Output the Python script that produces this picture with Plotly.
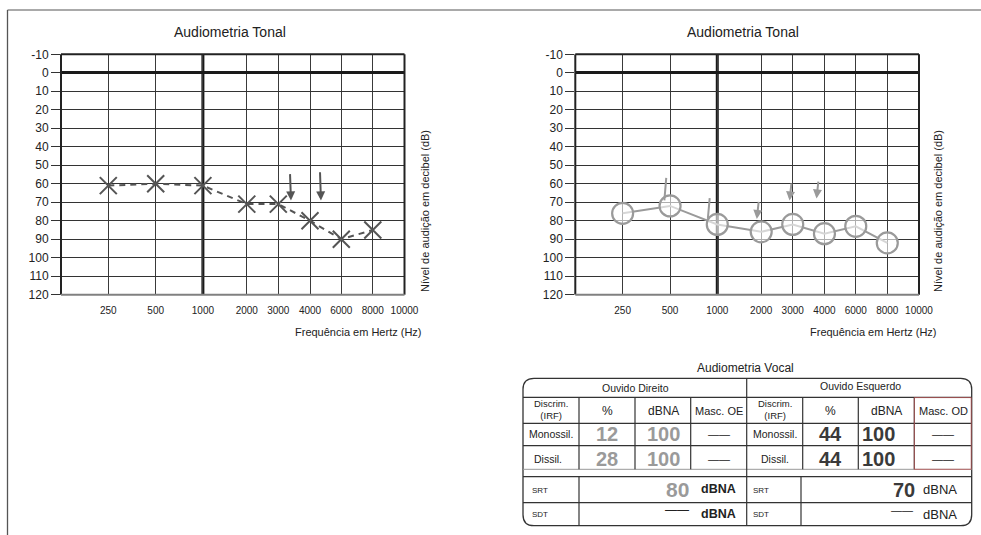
import numpy as np
import plotly.graph_objects as go

# ---------------- data ----------------
freqs = [250, 500, 1000, 2000, 3000, 4000, 6000, 8000]
od_thresholds = [61, 60, 61, 71, 71, 80, 90, 85]      # X markers (left audiogram)
oe_thresholds = [76, 72, 82, 86, 82, 87, 83, 92]      # O markers (right audiogram)

od_arrow_freq = [3400, 4700]
od_arrow_top = [54, 53]
od_arrow_bottom = [69, 69]

oe_arrow_freq = [470, 900, 1900, 2900, 3750]
oe_arrow_top = [56, 67, 69, 59, 58]
oe_arrow_bottom = [69, 79, 79, 69, 68]
oe_arrow_head = [0, 0, 1, 1, 1]

tick_freqs = [250, 500, 1000, 2000, 3000, 4000, 6000, 8000, 10000]
tick_labels = [str(f) for f in tick_freqs]
db_ticks = list(range(-10, 121, 10))
db_labels = [str(v) for v in db_ticks]

vocal_rows = ["Monossil.", "Dissil."]
od_pct = [12, 28]
od_dbna = [100, 100]
oe_pct = [44, 44]
oe_dbna = [100, 100]
srt_od = 80
srt_oe = 70

# ---------------- layout helpers ----------------
W0, H0 = 981, 535

TICK_POS = [47.3, 94.7, 141.9, 185.8, 217.3, 249.0, 280.3, 311.8, 343.5]
X_RANGE = [0, 343.5]


def fx(f):
    return np.interp(f, tick_freqs, TICK_POS)


def px(x):
    return x / W0


def py(y):
    return 1 - y / H0


FONT = "Liberation Sans, Arial, sans-serif"
DARK = "#222"
GRAY = "#9a9a9a"

fig = go.Figure()

fig.add_trace(go.Scatter(
    x=fx(freqs), y=od_thresholds, mode="lines+markers",
    line=dict(color="#555", width=2, dash="6px,5px"),
    marker=dict(symbol="x-thin", size=17, color="#555", line=dict(width=2, color="#555")),
    xaxis="x", yaxis="y", showlegend=False, hoverinfo="skip"))

fig.add_trace(go.Scatter(
    x=fx(freqs), y=oe_thresholds, mode="lines+markers",
    line=dict(color=GRAY, width=2),
    marker=dict(symbol="circle", size=21, color="rgba(255,255,255,0.6)",
                line=dict(width=2.2, color=GRAY)),
    xaxis="x2", yaxis="y2", showlegend=False, hoverinfo="skip"))

ydom = [py(294.7), py(54.3)]
xdoms = {"x": [px(61), px(404.5)], "x2": [px(575.3), px(919)]}

common_x = dict(range=X_RANGE, tickmode="array", tickvals=TICK_POS, ticktext=tick_labels,
                showgrid=True, gridcolor="#3a3a3a", gridwidth=1.3, zeroline=False,
                showline=False, ticks="outside", ticklen=6, tickcolor="rgba(0,0,0,0)",
                tickfont=dict(size=10, color=DARK, family=FONT), fixedrange=True,
                automargin=False)
common_y = dict(range=[120, -10], tickmode="array", tickvals=db_ticks, ticktext=db_labels,
                showgrid=True, gridcolor="#333", gridwidth=1, zeroline=True,
                zerolinecolor="#1a1a1a", zerolinewidth=3, showline=False,
                ticks="outside", ticklen=9, tickcolor="#333", tickwidth=1,
                tickfont=dict(size=12, color=DARK, family=FONT), fixedrange=True,
                domain=ydom, automargin=False)

fig.update_layout(
    width=W0, height=H0, autosize=False,
    margin=dict(l=0, r=0, t=0, b=0, pad=0, autoexpand=False),
    paper_bgcolor="white", plot_bgcolor="white",
    font=dict(family=FONT, color=DARK),
    xaxis=dict(domain=xdoms["x"], anchor="y", **common_x),
    yaxis=dict(anchor="x", **common_y),
    xaxis2=dict(domain=xdoms["x2"], anchor="y2", **common_x),
    yaxis2=dict(anchor="x2", **common_y),
)

shapes = []
annotations = []

# audiogram frames and 1000 Hz thick line
for xr, yr in [("x", "y"), ("x2", "y2")]:
    xd, yd = xr + " domain", yr + " domain"
    shapes.append(dict(type="line", xref=xd, yref=yd, x0=0, x1=1, y0=1, y1=1,
                       line=dict(color=DARK, width=2)))
    shapes.append(dict(type="line", xref=xd, yref=yd, x0=0, x1=0, y0=0, y1=1,
                       line=dict(color=DARK, width=2)))
    shapes.append(dict(type="line", xref=xd, yref=yd, x0=1, x1=1, y0=0, y1=1,
                       line=dict(color=DARK, width=2)))
    shapes.append(dict(type="line", xref=xd, yref=yd, x0=0, x1=1, y0=0, y1=0,
                       line=dict(color="#808080", width=2)))
    shapes.append(dict(type="line", xref=xr, yref=yd, x0=fx(1000), x1=fx(1000), y0=0, y1=1,
                       line=dict(color="#1a1a1a", width=3), layer="below"))

# page frame
shapes.append(dict(type="line", xref="paper", yref="paper", x0=px(7.5), x1=1, y0=py(10), y1=py(10),
                   line=dict(color="#555", width=1)))
shapes.append(dict(type="line", xref="paper", yref="paper", x0=px(7.5), x1=px(7.5), y0=py(10), y1=0,
                   line=dict(color="#555", width=1.3)))

# no-response / BC arrows
for f, t, b in zip(od_arrow_freq, od_arrow_top, od_arrow_bottom):
    annotations.append(dict(x=fx(f), y=b, ax=fx(f) - 1, ay=t, xref="x", yref="y",
                            axref="x", ayref="y", text="", showarrow=True, arrowhead=2,
                            arrowsize=0.9, arrowwidth=2, arrowcolor="#555", standoff=0))
for f, t, b, hd in zip(oe_arrow_freq, oe_arrow_top, oe_arrow_bottom, oe_arrow_head):
    annotations.append(dict(x=fx(f), y=b, ax=fx(f) + 2, ay=t, xref="x2", yref="y2",
                            axref="x2", ayref="y2", text="", showarrow=True,
                            arrowhead=2 if hd else 0, arrowsize=0.9, arrowwidth=2,
                            arrowcolor=GRAY, standoff=0))


def txt(x, y, s, size, color=DARK, xanchor="center", angle=0):
    annotations.append(dict(x=px(x), y=py(y), xref="paper", yref="paper", text=s,
                            showarrow=False, xanchor=xanchor, yanchor="middle",
                            textangle=angle, borderpad=0,
                            font=dict(size=size, color=color, family=FONT)))


# audiogram titles
for cx, yl, xt in [(230, 425, 423), (743, 938, 938)]:
    txt(cx, 31.7, "Audiometria Tonal", 14)
    txt(yl, 211, "Nível de audição em decibel (dB)", 11, angle=-90)
    txt(xt, 332, "Frequência em Hertz (Hz)", 11, xanchor="right")

# ---------------- vocal table ----------------
x0, x1, y0, y1, r = 523, 971.7, 378.3, 525.7, 11
path = (f"M {px(x0 + r)},{py(y0)} L {px(x1 - r)},{py(y0)} "
        f"Q {px(x1)},{py(y0)} {px(x1)},{py(y0 + r)} L {px(x1)},{py(y1 - r)} "
        f"Q {px(x1)},{py(y1)} {px(x1 - r)},{py(y1)} L {px(x0 + r)},{py(y1)} "
        f"Q {px(x0)},{py(y1)} {px(x0)},{py(y1 - r)} L {px(x0)},{py(y0 + r)} "
        f"Q {px(x0)},{py(y0)} {px(x0 + r)},{py(y0)} Z")
shapes.append(dict(type="path", xref="paper", yref="paper", path=path,
                   line=dict(color="#333", width=1.3)))


def hline(y, xa, xb, color="#333", width=1.2):
    shapes.append(dict(type="line", xref="paper", yref="paper", x0=px(xa), x1=px(xb),
                       y0=py(y), y1=py(y), line=dict(color=color, width=width)))


def vline(x, ya, yb, color="#333", width=1.2):
    shapes.append(dict(type="line", xref="paper", yref="paper", x0=px(x), x1=px(x),
                       y0=py(ya), y1=py(yb), line=dict(color=color, width=width)))


for yy in [397.3, 423.3, 445.7, 502.7]:
    hline(yy, x0, x1)
hline(469.3, x0, x1, color="#999", width=1)
hline(476.7, x0, x1, color="#333", width=1.3)
vline(746.7, y0, y1)
for xx in [579, 635, 690.7, 802.7, 858.3, 914.3]:
    vline(xx, 397.3, 469.3)
vline(579, 476.7, y1)
vline(801, 476.7, y1)
# reddish outline of "Masc. OD" column
shapes.append(dict(type="rect", xref="paper", yref="paper", x0=px(914.3), x1=px(971.2),
                   y0=py(469.3), y1=py(397.6), line=dict(color="rgba(190,90,90,0.8)", width=1)))

txt(745, 368, "Audiometria Vocal", 12)
txt(635, 388.3, "Ouvido Direito", 10.5)
txt(860, 385.5, "Ouvido Esquerdo", 10.5)

for cx in [551, 774.7]:
    txt(cx, 409.5, "Discrim.<br>(IRF)", 9.5)
for cx, lab in [(607, "%"), (663, "dBNA"), (718.7, "Masc. OE"),
                (830.5, "%"), (886.3, "dBNA"), (943, "Masc. OD")]:
    txt(cx, 410.5, lab, 12 if lab in ("%", "dBNA") else 11)

row_y = [434, 458.5]
for i, lab in enumerate(vocal_rows):
    yy = row_y[i]
    txt(551 if i == 0 else 548, yy, lab, 10.5)
    txt(774.7, yy, lab, 10.5)
    txt(607, yy, f"<b>{od_pct[i]}</b>", 20, color=GRAY)
    txt(663, yy, f"<b>{od_dbna[i]}</b>", 20, color=GRAY)
    txt(718.7, yy, "——", 11)
    txt(830.5, yy, f"<b>{oe_pct[i]}</b>", 20, color="#3a3a3a")
    txt(878, yy, f"<b>{oe_dbna[i]}</b>", 20, color="#3a3a3a")
    txt(943, yy, "——", 11)

# SRT / SDT
txt(531, 490, "SRT", 8, xanchor="left")
txt(752, 490, "SRT", 8, xanchor="left")
txt(531, 514, "SDT", 8, xanchor="left")
txt(752, 514, "SDT", 8, xanchor="left")
txt(690, 489, f"<b>{srt_od}</b>", 21, color=GRAY, xanchor="right")
txt(718, 489, "<b>dBNA</b>", 12.5)
txt(916, 489.5, f"<b>{srt_oe}</b>", 20, color="#3a3a3a", xanchor="right")
txt(940, 489, "dBNA", 13)
txt(690, 510, "——", 12, xanchor="right")
txt(718, 514, "<b>dBNA</b>", 12.5)
txt(914, 510, "——", 11, xanchor="right")
txt(940, 514, "dBNA", 13)

fig.update_layout(shapes=shapes, annotations=annotations)

# pin the figure to the window's top-left corner (no body margin / scrollbars)
post = ("document.body.style.margin='0px';document.documentElement.style.overflow='hidden';"
        "var gd=document.getElementById('{plot_id}');gd.style.position='fixed';"
        "gd.style.left='0px';gd.style.top='0px';")
fig.write_html("out.html", post_script=post, config={"displayModeBar": False})
